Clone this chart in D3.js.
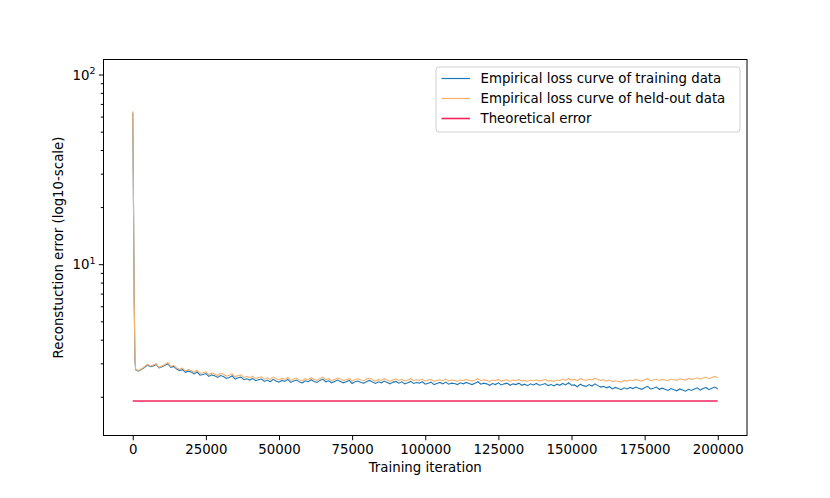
<!DOCTYPE html>
<html>
<head>
<meta charset="utf-8">
<script src="https://cdn.jsdelivr.net/npm/d3@7"></script>
<style>
  body { margin: 0; background: #fff; }
  svg text { font-family: "DejaVu Sans", sans-serif; fill: #000; }
</style>
</head>
<body>
<svg id="chart" width="830" height="498"></svg>
<script>
// Values
const earlyIters = [0, 250, 500, 750];
const earlyHeld = [64, 22, 6.5, 3.2];
const earlyTrain = [63, 21, 6.3, 3.1];

// after the drop: one sample every 1000 iterations (1000 .. 200000)
const sampleStep = 1000;

const heldValues = [
  2.79, 2.75, 2.81, 2.88, 2.97, 2.90, 2.94, 2.99, 2.86, 2.91,
  2.96, 3.03, 2.89, 2.93, 2.84, 2.79, 2.83, 2.74, 2.78, 2.75,
  2.70, 2.76, 2.66, 2.68, 2.71, 2.62, 2.67, 2.64, 2.59, 2.66,
  2.63, 2.57, 2.60, 2.65, 2.55, 2.59, 2.61, 2.53, 2.56, 2.52,
  2.57, 2.50, 2.53, 2.55, 2.48, 2.52, 2.47, 2.54, 2.49, 2.46,
  2.50, 2.47, 2.53, 2.44, 2.48, 2.51, 2.45, 2.43, 2.49, 2.46,
  2.52, 2.47, 2.44, 2.50, 2.54, 2.46, 2.49, 2.43, 2.47, 2.51,
  2.48, 2.44, 2.46, 2.50, 2.42, 2.47, 2.49, 2.45, 2.43, 2.48,
  2.51, 2.46, 2.42, 2.47, 2.44, 2.49, 2.45, 2.41, 2.46, 2.48,
  2.44, 2.47, 2.42, 2.45, 2.49, 2.43, 2.46, 2.44, 2.48, 2.42,
  2.45, 2.47, 2.41, 2.44, 2.46, 2.43, 2.48, 2.42, 2.45, 2.44,
  2.41, 2.46, 2.43, 2.47, 2.44, 2.42, 2.45, 2.49, 2.43, 2.46,
  2.44, 2.41, 2.45, 2.43, 2.47, 2.42, 2.44, 2.46, 2.41, 2.45,
  2.43, 2.47, 2.42, 2.44, 2.41, 2.45, 2.43, 2.46, 2.42, 2.44,
  2.47, 2.42, 2.44, 2.41, 2.45, 2.43, 2.48, 2.44, 2.50, 2.45,
  2.47, 2.43, 2.49, 2.46, 2.44, 2.48, 2.45, 2.51, 2.47, 2.44,
  2.46, 2.42, 2.45, 2.40, 2.43, 2.41, 2.39, 2.44, 2.42, 2.45,
  2.43, 2.47, 2.44, 2.42, 2.46, 2.49, 2.43, 2.45, 2.48, 2.44,
  2.47, 2.45, 2.43, 2.48, 2.46, 2.44, 2.49, 2.47, 2.45, 2.50,
  2.47, 2.49, 2.52, 2.48, 2.51, 2.54, 2.49, 2.53, 2.56, 2.52
];

const trainValues = [
  2.77, 2.73, 2.79, 2.85, 2.94, 2.88, 2.91, 2.96, 2.84, 2.88,
  2.93, 2.99, 2.86, 2.89, 2.80, 2.75, 2.78, 2.69, 2.73, 2.70,
  2.64, 2.70, 2.60, 2.62, 2.65, 2.56, 2.61, 2.58, 2.53, 2.59,
  2.56, 2.50, 2.53, 2.58, 2.48, 2.52, 2.54, 2.46, 2.49, 2.45,
  2.50, 2.43, 2.46, 2.48, 2.41, 2.45, 2.40, 2.47, 2.42, 2.39,
  2.44, 2.41, 2.47, 2.38, 2.42, 2.45, 2.39, 2.37, 2.43, 2.40,
  2.46, 2.41, 2.38, 2.44, 2.48, 2.40, 2.43, 2.37, 2.41, 2.45,
  2.41, 2.37, 2.40, 2.44, 2.35, 2.40, 2.42, 2.38, 2.36, 2.41,
  2.44, 2.39, 2.35, 2.40, 2.37, 2.42, 2.38, 2.34, 2.39, 2.41,
  2.36, 2.40, 2.34, 2.37, 2.41, 2.35, 2.38, 2.36, 2.40, 2.33,
  2.36, 2.39, 2.32, 2.35, 2.38, 2.34, 2.39, 2.33, 2.36, 2.35,
  2.32, 2.37, 2.34, 2.38, 2.35, 2.32, 2.36, 2.40, 2.33, 2.36,
  2.34, 2.30, 2.35, 2.32, 2.37, 2.31, 2.34, 2.36, 2.30, 2.34,
  2.32, 2.36, 2.30, 2.33, 2.29, 2.34, 2.31, 2.35, 2.30, 2.32,
  2.35, 2.29, 2.32, 2.28, 2.33, 2.30, 2.35, 2.31, 2.37, 2.30,
  2.31, 2.26, 2.33, 2.29, 2.27, 2.32, 2.28, 2.34, 2.29, 2.25,
  2.27, 2.23, 2.26, 2.20, 2.24, 2.21, 2.18, 2.23, 2.20, 2.24,
  2.21, 2.25, 2.22, 2.19, 2.23, 2.27, 2.20, 2.22, 2.25, 2.19,
  2.22, 2.19, 2.16, 2.21, 2.18, 2.15, 2.20, 2.17, 2.14, 2.19,
  2.16, 2.20, 2.23, 2.17, 2.21, 2.24, 2.18, 2.22, 2.25, 2.20
];

const theoryIters = [0, 200000];
const theoryValues = [1.90, 1.90];

const xTicks = [0, 25000, 50000, 75000, 100000, 125000, 150000, 175000, 200000];
const yMajorTicks = [10, 100];
const yMinorTicks = [2, 3, 4, 5, 6, 7, 8, 9, 20, 30, 40, 50, 60, 70, 80, 90];

const seriesNames = [
  "Empirical loss curve of training data",
  "Empirical loss curve of held-out data",
  "Theoretical error"
];
const seriesColors = ["#1f77b4", "#f5b06e", "#f5245c"];

// build point lists
const laterIters = heldValues.map((v, i) => (i + 1) * sampleStep);
const allIters = earlyIters.concat(laterIters);
const trainAll = earlyTrain.concat(trainValues);
const heldAll = earlyHeld.concat(heldValues);
const trainData = allIters.map((x, i) => ({ x: x, y: trainAll[i] }));
const heldData = allIters.map((x, i) => ({ x: x, y: heldAll[i] }));
const theoryData = theoryIters.map((x, i) => ({ x: x, y: theoryValues[i] }));

const svg = d3.select("#chart"),
      width = +svg.attr("width"),
      height = +svg.attr("height"),
      margin = { top: 59.5, right: 83, bottom: 62.5, left: 103.5 };

const xScale = d3.scaleLinear().domain([-10000, 210000]).range([margin.left, width - margin.right]);
const yScale = d3.scaleLog().domain([1.25, 120]).range([height - margin.bottom, margin.top]);

const fontSize = 13.33;

// x axis
const xAxis = svg.append("g")
    .attr("transform", `translate(0,${height - margin.bottom})`)
    .call(d3.axisBottom(xScale).tickValues(xTicks).tickFormat(d3.format("d")).tickSize(4.7).tickPadding(4.2));
xAxis.select(".domain").remove();
xAxis.selectAll("text").style("font-size", fontSize + "px").style("font-family", "DejaVu Sans");

// y axis, major + minor ticks
const yAxis = svg.append("g").attr("transform", `translate(${margin.left},0)`);
yAxis.call(d3.axisLeft(yScale).tickValues(yMajorTicks).tickFormat("").tickSize(4.7));
yAxis.select(".domain").remove();
const yMinor = svg.append("g").attr("transform", `translate(${margin.left},0)`);
yMinor.call(d3.axisLeft(yScale).tickValues(yMinorTicks).tickFormat("").tickSize(2.7));
yMinor.select(".domain").remove();

// y labels as 10^n
yMajorTicks.forEach(v => {
    const t = svg.append("text")
        .attr("x", margin.left - 8)
        .attr("y", yScale(v) + 5)
        .attr("text-anchor", "end")
        .style("font-size", fontSize + "px");
    t.append("tspan").text("10");
    t.append("tspan").attr("dy", -5.5).style("font-size", "9.5px").text(Math.round(Math.log10(v)));
});

// lines
const line = d3.line()
    .x(d => xScale(d.x))
    .y(d => yScale(d.y));

const plot = svg.append("g");
plot.append("path").datum(trainData)
    .attr("fill", "none").attr("stroke", seriesColors[0]).attr("stroke-width", 1.1).attr("d", line);
plot.append("path").datum(heldData)
    .attr("fill", "none").attr("stroke", seriesColors[1]).attr("stroke-width", 1.1).attr("d", line);
plot.append("path").datum(theoryData)
    .attr("fill", "none").attr("stroke", seriesColors[2]).attr("stroke-width", 1.6).attr("d", line);

// frame
svg.append("rect")
    .attr("x", margin.left).attr("y", margin.top)
    .attr("width", width - margin.right - margin.left)
    .attr("height", height - margin.bottom - margin.top)
    .attr("fill", "none").attr("stroke", "#000").attr("stroke-width", 1);

// axis titles
svg.append("text")
    .attr("x", (margin.left + width - margin.right) / 2)
    .attr("y", 472)
    .attr("text-anchor", "middle")
    .style("font-size", fontSize + "px")
    .text("Training iteration");

svg.append("text")
    .attr("transform", `translate(63,${(margin.top + height - margin.bottom) / 2}) rotate(-90)`)
    .attr("text-anchor", "middle")
    .style("font-size", fontSize + "px")
    .text("Reconstuction error (log10-scale)");

// legend
const legend = svg.append("g").attr("transform", "translate(436,67)");
legend.append("rect")
    .attr("width", 304).attr("height", 65).attr("rx", 3)
    .attr("fill", "#fff").attr("fill-opacity", 0.8)
    .attr("stroke", "#d0d0d0").attr("stroke-width", 1);
seriesNames.forEach((name, i) => {
    const yy = 11.5 + i * 20;
    legend.append("line")
        .attr("x1", 5.5).attr("x2", 34).attr("y1", yy).attr("y2", yy)
        .attr("stroke", seriesColors[i]).attr("stroke-width", i === 2 ? 1.6 : 1.2);
    legend.append("text")
        .attr("x", 44.5).attr("y", yy + 4.8)
        .style("font-size", fontSize + "px")
        .text(name);
});
</script>
</body>
</html>
